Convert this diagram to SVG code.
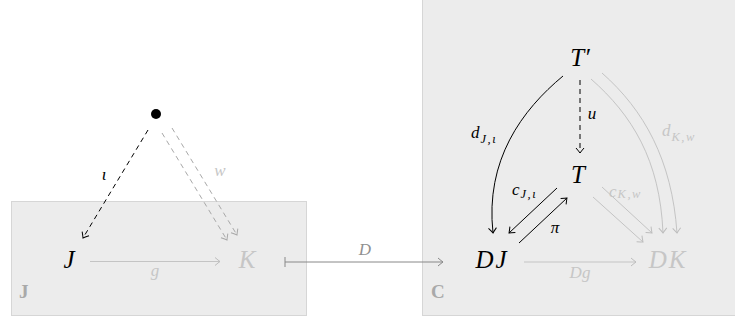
<svg xmlns="http://www.w3.org/2000/svg" width="735" height="320" viewBox="0 0 735 320">
<style>
.m{font-family:"Liberation Serif","Times New Roman",serif;font-style:italic}
.big{font-size:25px}
.lab{font-size:17px}
.sub{font-size:12.5px;letter-spacing:1.5px}
.blk{fill:#000}
.gry{fill:#c6c6c6}
.bold{font-family:"Liberation Serif",serif;font-weight:bold;font-size:19px;fill:#a9a9a9}
.ln{fill:none;stroke-width:1}
.k{stroke:#000}
.g{stroke:#c4c4c4}
.dash{stroke-dasharray:5,4}
</style>
<defs>
<marker id="ak" markerUnits="userSpaceOnUse" markerWidth="12" markerHeight="12" viewBox="-6 -6 12 12" refX="0" refY="0" orient="auto"><path d="M-5,-4 Q-1.5,-1 0,0 Q-1.5,1 -5,4" fill="none" stroke="#000" stroke-width="1"/></marker>
<marker id="ag" markerUnits="userSpaceOnUse" markerWidth="12" markerHeight="12" viewBox="-6 -6 12 12" refX="0" refY="0" orient="auto"><path d="M-5,-4 Q-1.5,-1 0,0 Q-1.5,1 -5,4" fill="none" stroke="#bdbdbd" stroke-width="1"/></marker>
<marker id="ad" markerUnits="userSpaceOnUse" markerWidth="12" markerHeight="12" viewBox="-6 -6 12 12" refX="0" refY="0" orient="auto"><path d="M-5,-4 Q-1.5,-1 0,0 Q-1.5,1 -5,4" fill="none" stroke="#888" stroke-width="1"/></marker>
<marker id="aw" markerUnits="userSpaceOnUse" markerWidth="12" markerHeight="12" viewBox="-6 -6 12 12" refX="0" refY="0" orient="auto"><path d="M-5,-4 Q-1.5,-1 0,0 Q-1.5,1 -5,4" fill="none" stroke="#a8a8a8" stroke-width="1"/></marker>
</defs>

<g id="boxJ"><rect x="11.5" y="201.5" width="295" height="114" fill="#ececec" stroke="#d6d6d6"/><text class="bold" x="19" y="298">J</text></g>
<g id="boxC"><rect x="422.5" y="-1" width="320" height="316.5" fill="#ececec" stroke="#d6d6d6"/><text class="bold" x="431" y="298">C</text></g>

<g id="connectors">
<path class="ln k dash" d="M148,130 L83,238" marker-end="url(#ak)"/>
<path class="ln dash" stroke="#a8a8a8" d="M162,133 L227,240" marker-end="url(#aw)"/>
<path class="ln dash" stroke="#a8a8a8" d="M172,128 L237,235" marker-end="url(#aw)"/>
<path class="ln g" d="M90,261.5 L220,261.5" marker-end="url(#ag)"/>
<path class="ln" stroke="#888" d="M285,257 L285,267"/>
<path class="ln" stroke="#888" d="M285,262 L443,262" marker-end="url(#ad)"/>
<path class="ln k dash" d="M580,80 L580,153" marker-end="url(#ak)"/>
<path class="ln k" d="M563,76 C522,110 485,160 493,233" marker-end="url(#ak)"/>
<path class="ln k" d="M557,188 L509,233" marker-end="url(#ak)"/>
<path class="ln k" d="M519,243 L567,198" marker-end="url(#ak)"/>
<path class="ln g" d="M593,197 L643,242" marker-end="url(#ag)"/>
<path class="ln g" d="M602,187 L652,233" marker-end="url(#ag)"/>
<path class="ln g" d="M591,79 C632,115 660,160 663,233" marker-end="url(#ag)"/>
<path class="ln g" d="M602,73 C644,110 672,160 677,233" marker-end="url(#ag)"/>
<path class="ln g" d="M524,262 L636,262" marker-end="url(#ag)"/>
</g>

<g id="labels">
<text class="m lab blk" x="104" y="180" text-anchor="middle">ι</text>
<text class="m lab gry" x="220" y="176" text-anchor="middle">w</text>
<text class="m lab gry" x="155" y="276" text-anchor="middle">g</text>
<text class="m lab" fill="#909090" x="365" y="255" text-anchor="middle">D</text>
<text class="m lab blk" x="592" y="119" text-anchor="middle">u</text>
<text class="m lab blk" x="471" y="138">d<tspan class="sub" dx="1" dy="5">J,ι</tspan></text>
<text class="m lab blk" x="512" y="195">c<tspan class="sub" dx="1" dy="3">J,ι</tspan></text>
<text class="m lab blk" x="555" y="233" text-anchor="middle">π</text>
<text class="m lab gry" x="609" y="197">c<tspan class="sub" dx="1" dy="1">K,w</tspan></text>
<text class="m lab gry" x="662" y="136">d<tspan class="sub" dx="1" dy="5">K,w</tspan></text>
<text class="m lab gry" x="580" y="278" text-anchor="middle">Dg</text>
</g>

<g id="pt"><circle cx="156" cy="114" r="5" fill="#000"/></g>
<g id="J"><text class="m big blk" x="69" y="268" text-anchor="middle">J</text></g>
<g id="K"><text class="m big gry" x="247" y="268" text-anchor="middle">K</text></g>
<g id="Tp"><text class="m big blk" x="580" y="66" text-anchor="middle">T′</text></g>
<g id="T"><text class="m big blk" x="578" y="183" text-anchor="middle">T</text></g>
<g id="DJ"><text class="m big blk" x="492" y="268" text-anchor="middle" letter-spacing="2">DJ</text></g>
<g id="DK"><text class="m big gry" x="668" y="268" text-anchor="middle" letter-spacing="2">DK</text></g>
</svg>
